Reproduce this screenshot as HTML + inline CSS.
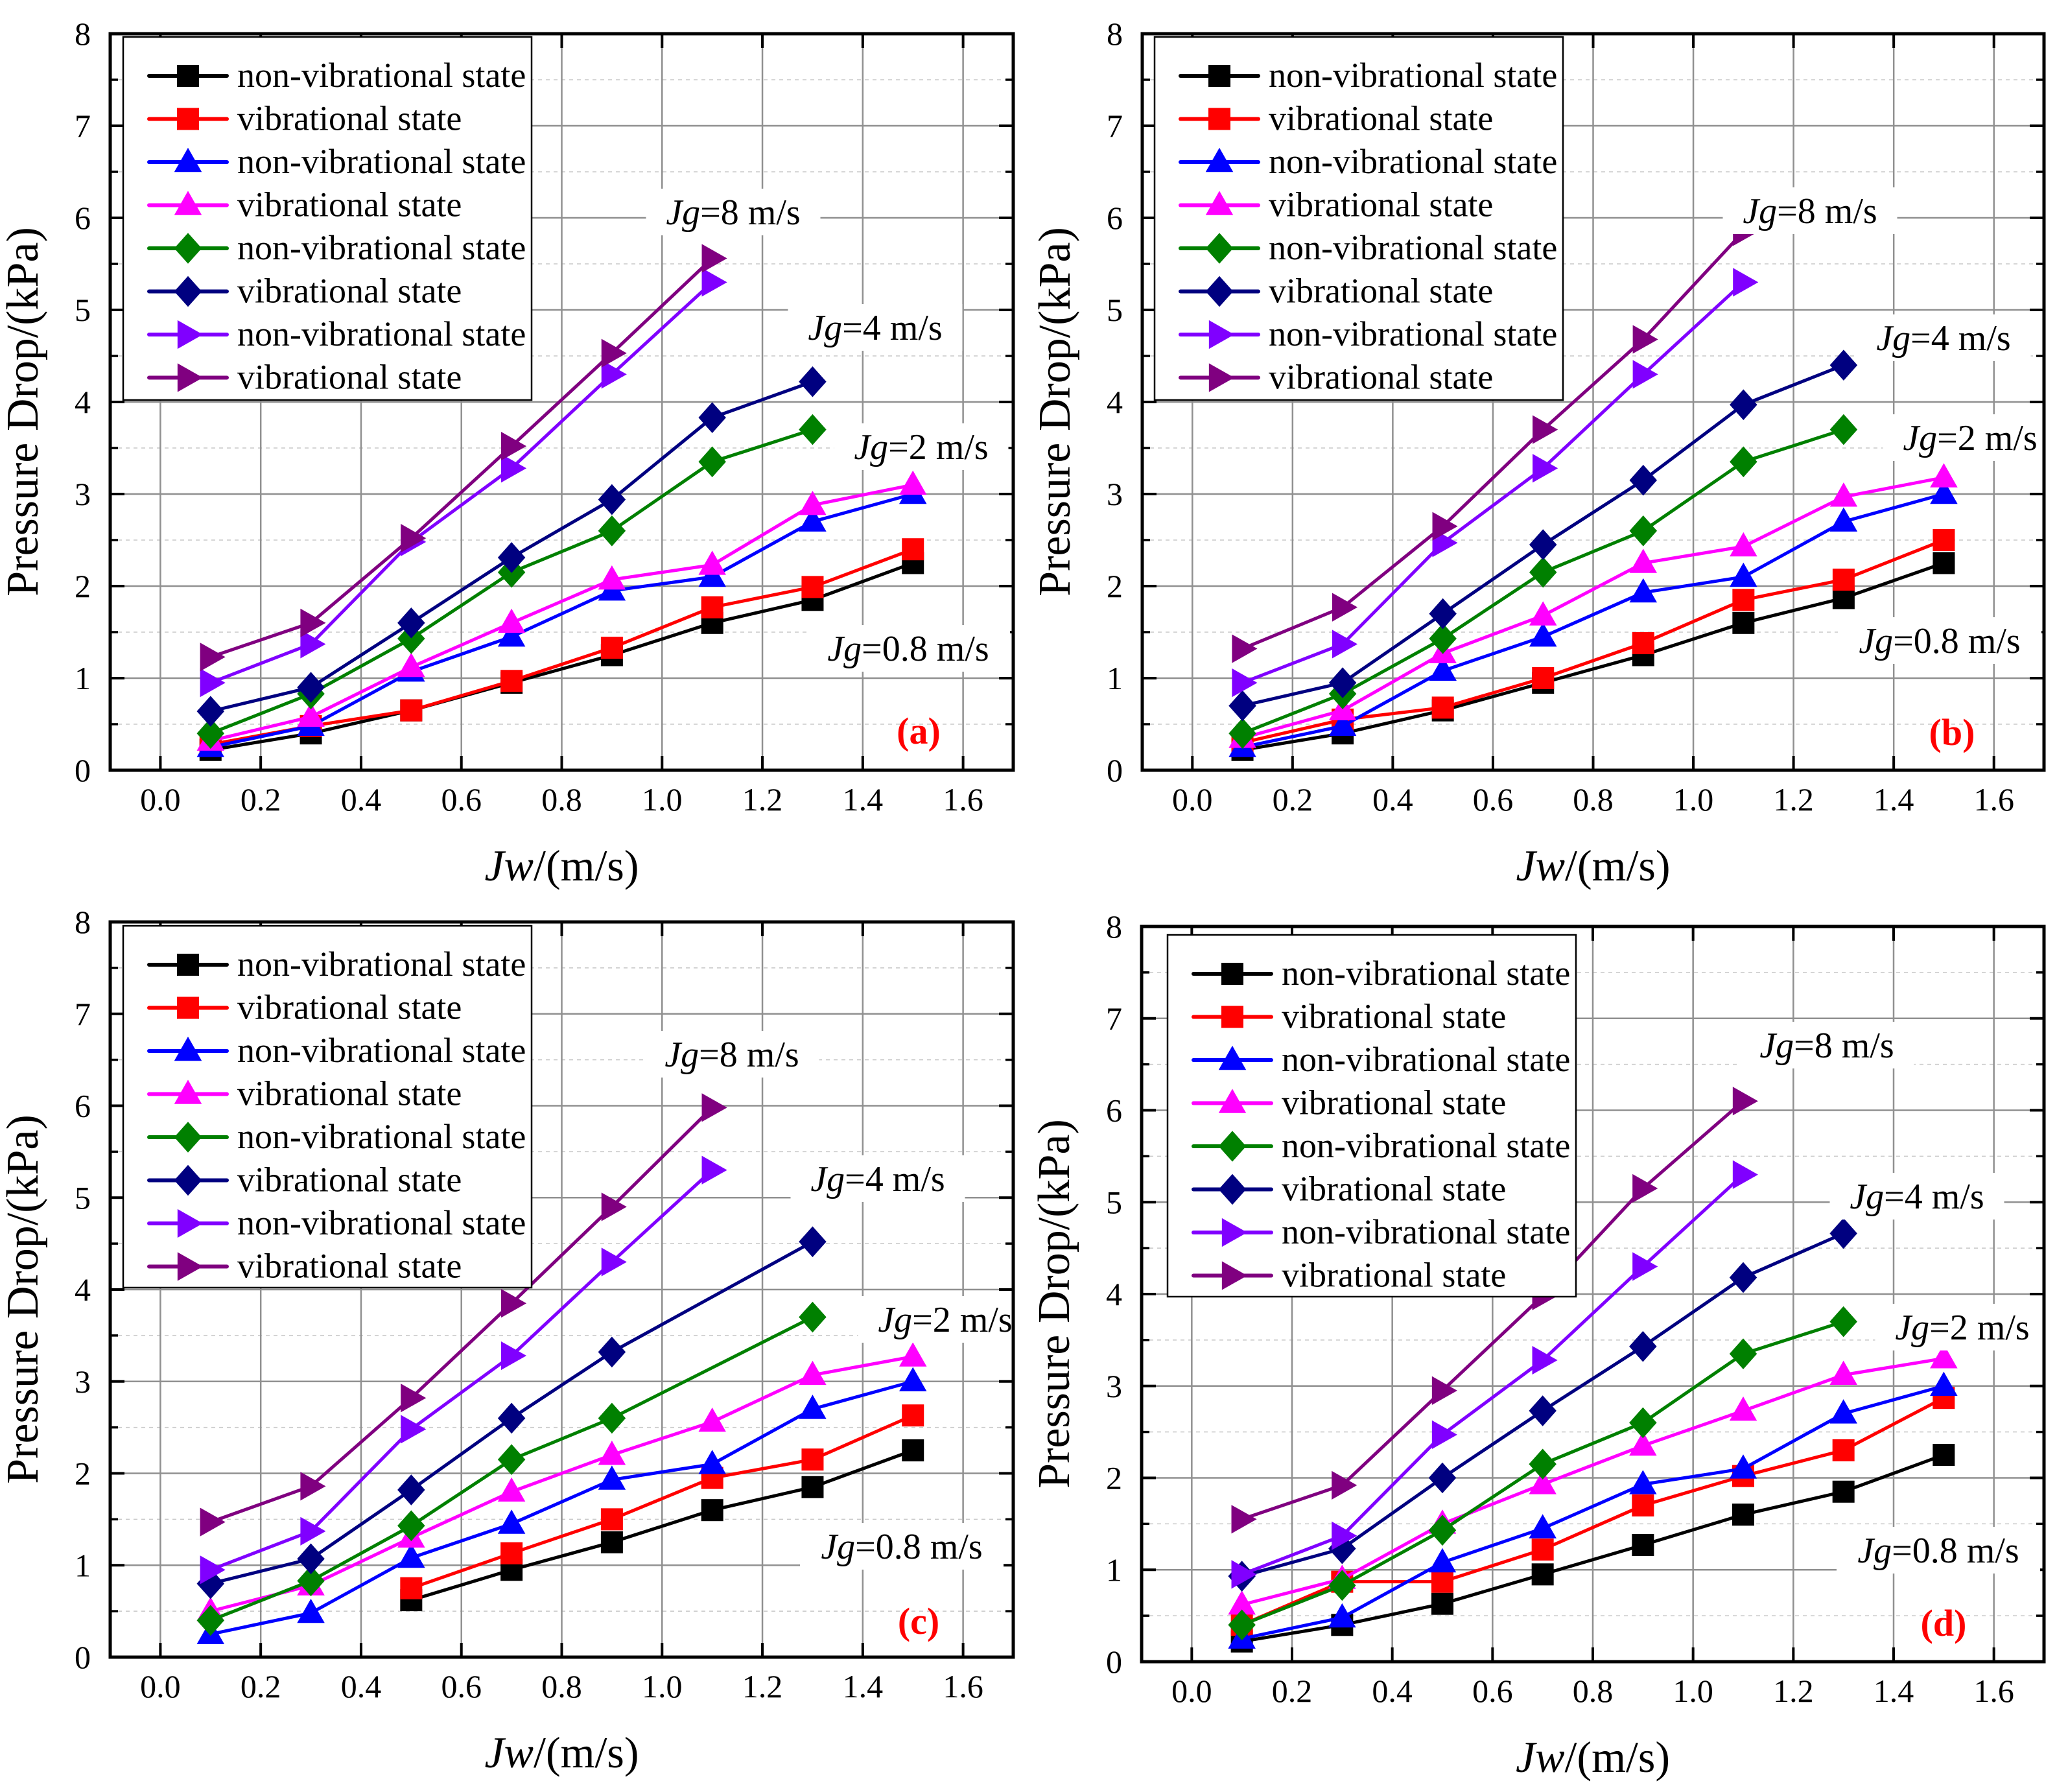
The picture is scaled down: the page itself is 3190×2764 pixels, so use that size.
<!DOCTYPE html>
<html><head><meta charset="utf-8"><style>
html,body{margin:0;padding:0;background:#fff;}
svg{display:block;font-family:"Liberation Serif",serif;}
</style></head>
<body>
<svg id="fig" width="3190" height="2764" viewBox="0 0 3190 2764" xmlns="http://www.w3.org/2000/svg"></svg>
<script>
const xCats=[0.1,0.3,0.5,0.7,0.9,1.1,1.3,1.5];
const xTicks=["0.0","0.2","0.4","0.6","0.8","1.0","1.2","1.4","1.6"];
const yTicks=["0","1","2","3","4","5","6","7","8"];
const seriesNames=["non-vibrational state","vibrational state","non-vibrational state","vibrational state","non-vibrational state","vibrational state","non-vibrational state","vibrational state"];
// panel a
const aBlack=[0.22,0.4,0.65,0.95,1.25,1.6,1.85,2.25];
const aRed=[0.28,0.48,0.65,0.97,1.33,1.77,1.99,2.4];
const aBlue=[0.25,0.48,1.07,1.45,1.95,2.1,2.7,3.0];
const aMag=[0.32,0.58,1.12,1.6,2.07,2.23,2.88,3.1];
const aGreen=[0.4,0.83,1.43,2.15,2.6,3.35,3.7,null];
const aNavy=[0.64,0.9,1.6,2.31,2.94,3.83,4.22,null];
const aViolet=[0.95,1.37,2.48,3.28,4.3,5.3,null,null];
const aPurple=[1.23,1.6,2.52,3.52,4.53,5.56,null,null];
// panel b
const bBlack=[0.22,0.4,0.65,0.95,1.25,1.6,1.87,2.25];
const bRed=[0.3,0.55,0.68,1.0,1.38,1.85,2.07,2.5];
const bBlue=[0.25,0.48,1.08,1.45,1.93,2.1,2.7,3.0];
const bMag=[0.35,0.65,1.27,1.68,2.25,2.43,2.97,3.18];
const bGreen=[0.4,0.83,1.43,2.15,2.6,3.35,3.7,null];
const bNavy=[0.7,0.95,1.7,2.45,3.15,3.97,4.4,null];
const bViolet=[0.95,1.37,2.47,3.28,4.3,5.3,null,null];
const bPurple=[1.32,1.77,2.65,3.7,4.68,5.85,null,null];
// panel c
const cBlack=[null,null,0.62,0.95,1.25,1.6,1.85,2.25];
const cRed=[null,null,0.75,1.13,1.5,1.95,2.15,2.63];
const cBlue=[0.25,0.48,1.08,1.45,1.93,2.1,2.7,3.0];
const cMag=[0.5,0.78,1.3,1.8,2.2,2.56,3.07,3.27];
const cGreen=[0.4,0.83,1.43,2.15,2.6,null,3.7,null];
const cNavy=[0.8,1.07,1.82,2.6,3.32,null,4.52,null];
const cViolet=[0.95,1.37,2.48,3.28,4.3,5.3,null,null];
const cPurple=[1.47,1.86,2.82,3.85,4.9,5.98,null,null];
// panel d
const dBlack=[0.22,0.4,0.63,0.95,1.27,1.6,1.85,2.25];
const dRed=[0.4,0.87,0.87,1.22,1.7,2.02,2.3,2.87];
const dBlue=[0.25,0.48,1.08,1.45,1.93,2.1,2.7,3.0];
const dMag=[0.62,0.9,1.5,1.93,2.35,2.73,3.12,3.3];
const dGreen=[0.4,0.83,1.43,2.15,2.6,3.35,3.7,null];
const dNavy=[0.93,1.23,2.0,2.73,3.43,4.18,4.66,null];
const dViolet=[0.95,1.37,2.47,3.28,4.3,5.3,null,null];
const dPurple=[1.55,1.92,2.95,3.98,5.15,6.1,null,null];

const colors=["#000000","#ff0000","#0000ff","#ff00ff","#008000","#000080","#8000ff","#800080"];
const markers=["square","square","tri","tri","diamond","diamond","right","right"];
const X0=-0.1, X1=1.7;
const NS="http://www.w3.org/2000/svg";
const svg=document.getElementById('fig');
function mk(tag,attrs,parent){const e=document.createElementNS(NS,tag);for(const k in attrs)e.setAttribute(k,attrs[k]);(parent||svg).appendChild(e);return e;}
function marker(g,type,cx,cy,color,s){
  let e;
  if(type==="square") e=mk('rect',{x:cx-s,y:cy-s,width:2*s,height:2*s,fill:color},g);
  else if(type==="tri") e=mk('polygon',{points:`${cx},${cy-s*1.3} ${cx-s*1.25},${cy+s*0.9} ${cx+s*1.25},${cy+s*0.9}`,fill:color},g);
  else if(type==="diamond") e=mk('polygon',{points:`${cx},${cy-s*1.4} ${cx+s*1.25},${cy} ${cx},${cy+s*1.4} ${cx-s*1.25},${cy}`,fill:color},g);
  else e=mk('polygon',{points:`${cx+s*1.35},${cy} ${cx-s*0.95},${cy-s*1.3} ${cx-s*0.95},${cy+s*1.3}`,fill:color},g);
  return e;
}
const panels=[
 {id:"a",L:170,R:1563,T:52,B:1188,data:[aBlack,aRed,aBlue,aMag,aGreen,aNavy,aViolet,aPurple],
  leg:[190,57,630,560],labels:[[1131,327,"8"],[1350,505,"4"],[1421,689,"2"],[1401,1000,"0.8"]],tag:[1417,1127]},
 {id:"b",L:1762,R:3153,T:52,B:1188,data:[bBlack,bRed,bBlue,bMag,bGreen,bNavy,bViolet,bPurple],
  leg:[1781,57,630,560],labels:[[2792,325,"8"],[2998,521,"4"],[3039,675,"2"],[2992,988,"0.8"]],tag:[3011,1129]},
 {id:"c",L:170,R:1563,T:1422,B:2556,data:[cBlack,cRed,cBlue,cMag,cGreen,cNavy,cViolet,cPurple],
  leg:[190,1428,630,558],labels:[[1129,1626,"8"],[1354,1818,"4"],[1458,2035,"2"],[1391,2385,"0.8"]],tag:[1417,2500]},
 {id:"d",L:1761,R:3153,T:1429,B:2563,data:[dBlack,dRed,dBlue,dMag,dGreen,dNavy,dViolet,dPurple],
  leg:[1801,1442,630,558],labels:[[2818,1612,"8"],[2957,1845,"4"],[3027,2047,"2"],[2990,2391,"0.8"]],tag:[2998,2503]}
];
panels.forEach(p=>{
  const g=mk('g',{});
  
  
  const xs=v=>p.L+(v-X0)/(X1-X0)*(p.R-p.L);
  const ys=v=>p.B-v/8*(p.B-p.T);
  for(let i=1;i<=16;i+=2){const v=-0.1+i*0.1;
    const l=mk('line',{x1:xs(v),x2:xs(v),y1:p.T,y2:p.B,stroke:"#c8c8c8","stroke-width":1.5,"stroke-dasharray":"6,6"},g);
    
    [[p.B,p.B-12],[p.T,p.T+12]].forEach(([a,b])=>{const tk=mk('line',{x1:xs(v),x2:xs(v),y1:a,y2:b,stroke:"#000","stroke-width":3.5},g);
      });}
  for(let i=0;i<8;i++){const v=i+0.5;
    const l=mk('line',{x1:p.L,x2:p.R,y1:ys(v),y2:ys(v),stroke:"#c8c8c8","stroke-width":1.5,"stroke-dasharray":"6,6"},g);
    }
  xTicks.forEach((t,i)=>{const v=i*0.2;
    const l=mk('line',{x1:xs(v),x2:xs(v),y1:p.T,y2:p.B,stroke:"#909090","stroke-width":2.5},g);
    
    const tk=mk('line',{x1:xs(v),x2:xs(v),y1:p.B,y2:p.B-22,stroke:"#000","stroke-width":4},g);
    
    const tk2=mk('line',{x1:xs(v),x2:xs(v),y1:p.T,y2:p.T+22,stroke:"#000","stroke-width":4},g);
    
    const tx=mk('text',{x:xs(v),y:p.B+62,"font-size":50,"text-anchor":"middle"},g);tx.textContent=t;
    });
  yTicks.forEach((t,i)=>{
    if(i>0&&i<8){const l=mk('line',{x1:p.L,x2:p.R,y1:ys(i),y2:ys(i),stroke:"#909090","stroke-width":2.5},g);
    }
    [[p.L,p.L+22],[p.R,p.R-22]].forEach(([a,b])=>{const tk=mk('line',{x1:a,x2:b,y1:ys(i),y2:ys(i),stroke:"#000","stroke-width":4},g);
      });
    if(i<8)[[p.L,p.L+12],[p.R,p.R-12]].forEach(([a,b])=>{const tk=mk('line',{x1:a,x2:b,y1:ys(i+0.5),y2:ys(i+0.5),stroke:"#000","stroke-width":3.5},g);
      });
    const tx=mk('text',{x:p.L-30,y:ys(i)+17,"font-size":50,"text-anchor":"end"},g);tx.textContent=t;
    });
  p.data.forEach((arr,si)=>{
    const sg=mk('g',{},g);
    
    
    const seg=[];
    arr.forEach((v,i)=>{if(v!==null)seg.push([xs(xCats[i]),ys(v)]);});
    const pl=mk('polyline',{points:seg.map(q=>q.join(',')).join(' '),fill:"none",stroke:colors[si],"stroke-width":5},sg);
    
    arr.forEach((v,i)=>{if(v===null)return;
      const m=marker(sg,markers[si],xs(xCats[i]),ys(v),colors[si],17);
      });
  });
  p.labels.forEach(([cx,cy,val])=>{
    const w=val==="0.8"?290:245;
    const r=mk('rect',{x:cx-w/2-12,y:cy-36,width:w+24,height:72,fill:"#fff"},g);
    
    const t=mk('text',{x:cx,y:cy+19,"font-size":56,"text-anchor":"middle"},g);
    
    const s1=mk('tspan',{"font-style":"italic"},t);s1.textContent="Jg";
    const s2=mk('tspan',{},t);s2.textContent="="+val+" m/s";
  });
  const tg=mk('text',{x:p.tag[0],y:p.tag[1]+20,"font-size":58,"font-weight":"bold",fill:"#ff0000","text-anchor":"middle"},g);
  tg.textContent="("+p.id+")";
  
  const fr=mk('rect',{x:p.L,y:p.T,width:p.R-p.L,height:p.B-p.T,fill:"none",stroke:"#000","stroke-width":5},g);
  
  const [lx,ly,lw,lh]=p.leg;
  const lg=mk('g',{},g);
  
  const lr=mk('rect',{x:lx,y:ly,width:lw,height:lh,fill:"#fff",stroke:"#000","stroke-width":2.5},lg);
  
  seriesNames.forEach((n,i)=>{
    const yy=ly+60+i*66.5;
    const e=mk('g',{},lg);
    
    mk('line',{x1:lx+40,x2:lx+160,y1:yy,y2:yy,stroke:colors[i],"stroke-width":6,"stroke-linecap":"round"},e);
    marker(e,markers[i],lx+100,yy,colors[i],17);
    const t=mk('text',{x:lx+176,y:yy+17,"font-size":54},e);t.textContent=n;
  });
  const xt=mk('text',{x:(p.L+p.R)/2,y:p.B+170,"font-size":68,"text-anchor":"middle"},g);
  
  const a1=mk('tspan',{"font-style":"italic"},xt);a1.textContent="Jw";
  const a2=mk('tspan',{},xt);a2.textContent="/(m/s)";
  const ycx=p.L-112, ycy=(p.T+p.B)/2+15;
  const yt=mk('text',{x:ycx,y:ycy,"font-size":70,"text-anchor":"middle",transform:`rotate(-90 ${ycx} ${ycy})`},g);
  yt.textContent="Pressure Drop/(kPa)";
  
});
</script>
</body></html>
